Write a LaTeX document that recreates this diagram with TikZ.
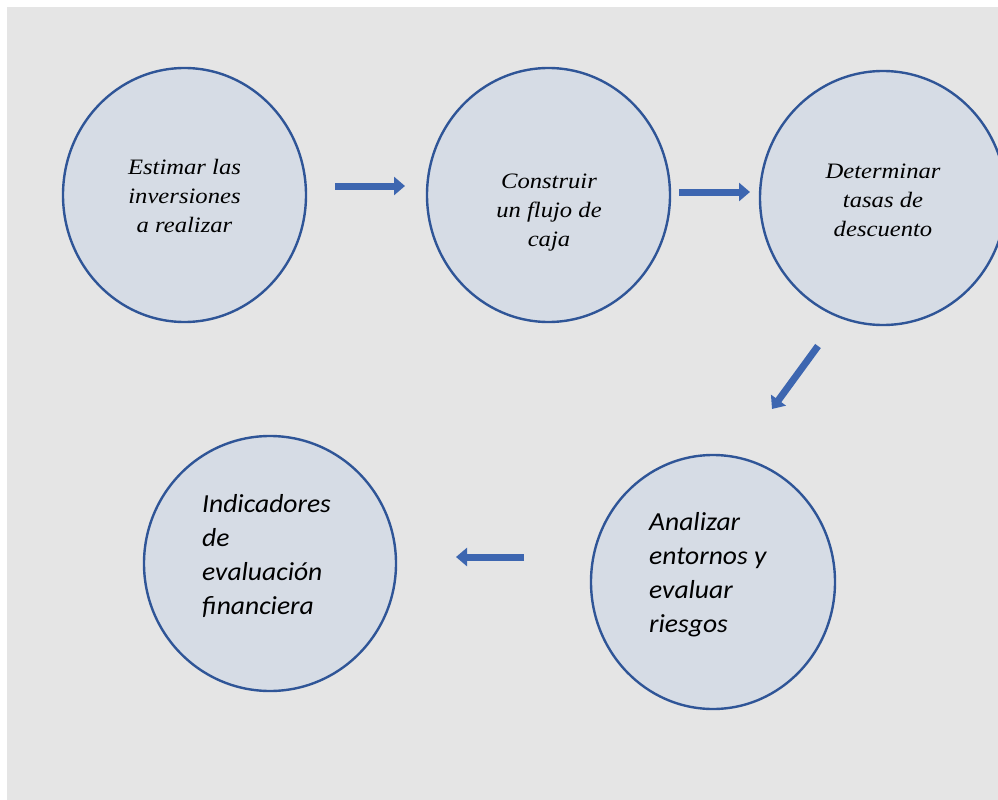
\documentclass[tikz,border=0pt]{standalone}
\usepackage{fontspec}
\setmainfont{Liberation Serif}
\newfontfamily\topfont[FakeStretch=1.12]{Liberation Serif}
\newfontfamily\calib[FakeStretch=1.06]{Carlito}
\usetikzlibrary{arrows.meta}
\definecolor{bggray}{HTML}{E5E5E5}
\definecolor{cfill}{HTML}{D6DCE5}
\definecolor{cline}{HTML}{2F5597}
\definecolor{arrblue}{HTML}{3D66B0}
\tikzset{
  stage/.style={draw=cline, line width=2.4pt, fill=cfill},
  toptext/.style={align=center, font=\topfont\fontsize{22}{29}\selectfont\itshape, inner sep=0pt},
  bottext/.style={align=left, font=\calib\fontsize{26}{34}\selectfont\itshape, inner sep=0pt},
  blockarrow/.style={draw=arrblue, line width=7pt, -{Triangle[length=11pt,width=18pt]}}
}
\begin{document}
\begin{tikzpicture}[x=1pt,y=-1pt]
\useasboundingbox (0,0) rectangle (998,800);
\fill[white] (0,0) rectangle (998,800);
\fill[bggray] (7,7) rectangle (998,800);
\begin{scope}
\clip (0,0) rectangle (998,800);
\draw[stage] (184.5,195) ellipse [x radius=121.5, y radius=127];
\draw[stage] (548.5,195) ellipse [x radius=121.5, y radius=127];
\draw[stage] (883,198) ellipse [x radius=123, y radius=127];
\draw[stage] (713,582) ellipse [x radius=122, y radius=127];
\draw[stage] (270,563.5) ellipse [x radius=126, y radius=127.5];
\end{scope}
\node[toptext] (t1) at (184.5,196) {Estimar las\\inversiones\\a realizar};
\node[toptext] (t2) at (549,213) {Construir\\un flujo de\\caja};
\node[toptext] (t3) at (883,200) {Determinar\\tasas de\\descuento};
\node[bottext, anchor=north west] (t4) at (649,512) {Analizar\\entornos y\\evaluar\\riesgos};
\node[bottext, anchor=north west] (t5) at (202,494) {Indicadores\\de\\evaluación\\financiera};
\coordinate (a1s) at (335,186);
\coordinate (a1e) at (405,186);
\coordinate (a2s) at (679,192);
\coordinate (a2e) at (750,192);
\coordinate (a3s) at (818,346);
\coordinate (a3e) at (772,409);
\coordinate (a4s) at (524,557);
\coordinate (a4e) at (456,557);
\draw[blockarrow] (a1s) -- (a1e);
\draw[blockarrow] (a2s) -- (a2e);
\draw[blockarrow] (a3s) -- (a3e);
\draw[blockarrow] (a4s) -- (a4e);
\end{tikzpicture}
\end{document}
